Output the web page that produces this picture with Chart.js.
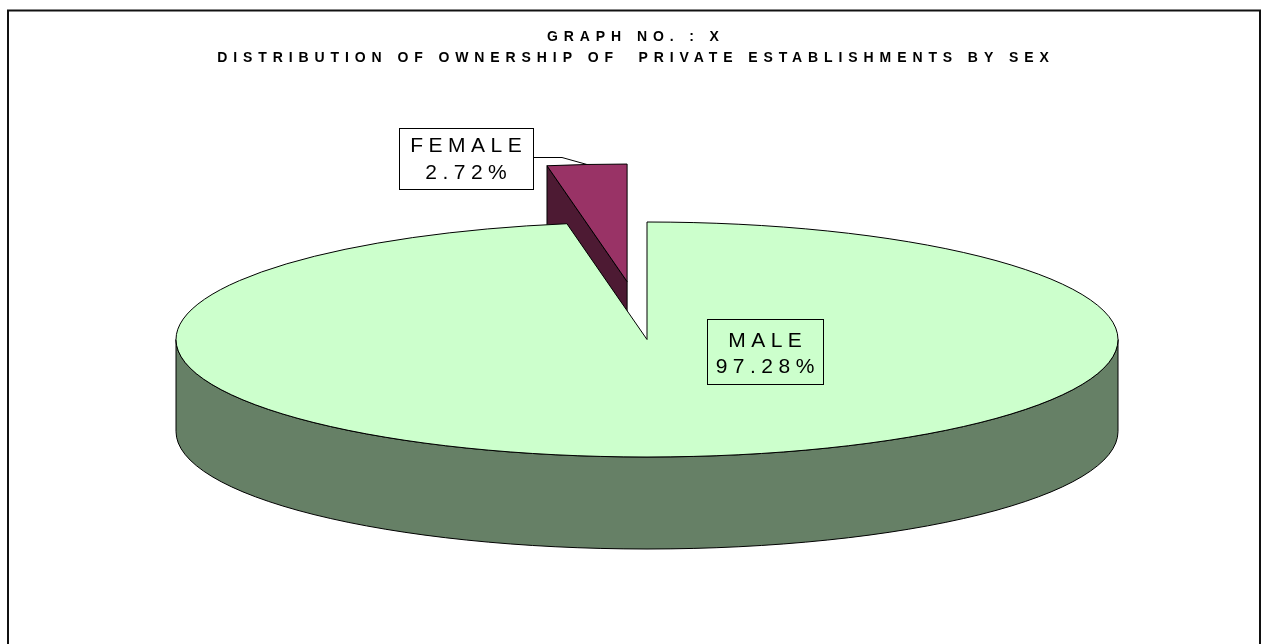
<!DOCTYPE html>
<html><head><meta charset="utf-8">
<script src="https://cdn.jsdelivr.net/npm/chart.js@4.4.0/dist/chart.umd.min.js"></script>
<style>html,body{margin:0;padding:0;background:#fff;}canvas{display:block;}</style>
</head><body>
<canvas id="c" width="1266" height="644"></canvas>
<script>
// ---- data ----
const categories = ['MALE', 'FEMALE'];
const shares = [97.28, 2.72];
const titleLines = ['GRAPH NO. : X', 'DISTRIBUTION OF OWNERSHIP OF  PRIVATE ESTABLISHMENTS BY SEX'];
const topColors = ['#CCFFCC', '#993366'];
const sideColors = ['#668066', '#4D1A33'];
const explode = [0, 99];

// ---- layout / style ----
const PIE_CX = 647, PIE_CY = 339.5, RX = 471, RY = 117.5, DEPTH = 92, BASE_R = 200;
const FONT = "'Liberation Sans', Arial, sans-serif";
const TITLE_SPACING = 5.9, LABEL_SPACING = 5.5;
const LABEL_BOXES = [
  {x: 707, y: 319, w: 116, h: 65, fill: null, base: [347, 373]},
  {x: 399, y: 128, w: 134, h: 61, fill: '#ffffff', base: [152, 179], leader: true}
];

let pieCenter = {x: 0, y: 0};
function sx(){ return RX / BASE_R; }
function sy(){ return RY / BASE_R; }
function S(x, y){ return {x: PIE_CX + (x - pieCenter.x) * sx(), y: PIE_CY + (y - pieCenter.y) * sy()}; }

const pie3d = {
  id: 'pie3d',
  afterUpdate(chart) {
    const a = chart.chartArea;
    pieCenter = {x: (a.left + a.right) / 2, y: (a.top + a.bottom) / 2};
    const meta = chart.getDatasetMeta(0);
    meta.data.forEach((el, i) => {
      const e = explode[i] || 0;
      if (e) {
        const mid = (el.startAngle + el.endAngle) / 2;
        el.x += Math.cos(mid) * e;
        el.y += Math.sin(mid) * e;
      }
    });
  },
  beforeDraw(chart) {
    chart.ctx.letterSpacing = TITLE_SPACING + 'px';
  },
  beforeDatasetsDraw(chart) {
    const ctx = chart.ctx;
    const meta = chart.getDatasetMeta(0);
    ctx.save();
    ctx.lineWidth = 1;
    ctx.strokeStyle = '#000';
    ctx.lineJoin = 'round';
    // radial (cut) faces
    meta.data.forEach((el, i) => {
      const C = S(el.x, el.y);
      const erx = el.outerRadius * sx(), ery = el.outerRadius * sy();
      const faces = [];
      if (Math.cos(el.startAngle) < -1e-6) faces.push(el.startAngle);
      if (Math.cos(el.endAngle) > 1e-6) faces.push(el.endAngle);
      faces.forEach(t => {
        const qx = C.x + erx * Math.cos(t), qy = C.y + ery * Math.sin(t);
        ctx.beginPath();
        ctx.moveTo(C.x, C.y);
        ctx.lineTo(qx, qy);
        ctx.lineTo(qx, qy + DEPTH);
        ctx.lineTo(C.x, C.y + DEPTH);
        ctx.closePath();
        ctx.fillStyle = sideColors[i];
        ctx.fill();
        ctx.stroke();
      });
    });
    // outer curved walls (front half only)
    meta.data.forEach((el, i) => {
      const C = S(el.x, el.y);
      const erx = el.outerRadius * sx(), ery = el.outerRadius * sy();
      const s = el.startAngle, e = el.endAngle, T = Math.PI * 2;
      for (let k = Math.floor(s / T) - 1; k <= Math.ceil(e / T) + 1; k++) {
        const a = Math.max(s, T * k), b = Math.min(e, T * k + Math.PI);
        if (b - a > 1e-6) {
          ctx.beginPath();
          ctx.ellipse(C.x, C.y, erx, ery, 0, a, b, false);
          ctx.ellipse(C.x, C.y + DEPTH, erx, ery, 0, b, a, true);
          ctx.closePath();
          ctx.fillStyle = sideColors[i];
          ctx.fill();
          ctx.stroke();
        }
      }
    });
    ctx.restore();
    // squash the library-drawn slices into the tilted ellipse
    ctx.save();
    ctx.translate(PIE_CX, PIE_CY);
    ctx.scale(sx(), sy());
    ctx.translate(-pieCenter.x, -pieCenter.y);
  },
  afterDatasetsDraw(chart) {
    const ctx = chart.ctx;
    ctx.restore();
    const meta = chart.getDatasetMeta(0);
    ctx.save();
    ctx.lineWidth = 1;
    ctx.strokeStyle = '#000';
    ctx.lineJoin = 'round';
    meta.data.forEach((el) => {
      const C = S(el.x, el.y);
      const erx = el.outerRadius * sx(), ery = el.outerRadius * sy();
      ctx.beginPath();
      ctx.moveTo(C.x, C.y);
      ctx.ellipse(C.x, C.y, erx, ery, 0, el.startAngle, el.endAngle, false);
      ctx.closePath();
      ctx.stroke();
    });
    ctx.restore();
  },
  afterDraw(chart) {
    const ctx = chart.ctx;
    const meta = chart.getDatasetMeta(0);
    const total = shares.reduce((a, b) => a + b, 0);
    ctx.save();
    // frame
    ctx.lineWidth = 2;
    ctx.strokeStyle = '#111';
    ctx.strokeRect(8, 10.5, 1252, 700);
    // labels
    ctx.lineWidth = 1;
    ctx.strokeStyle = '#000';
    LABEL_BOXES.forEach((b, i) => {
      if (b.leader) {
        const el = meta.data[i];
        const mid = (el.startAngle + el.endAngle) / 2;
        const P = S(el.x + el.outerRadius * Math.cos(mid), el.y + el.outerRadius * Math.sin(mid));
        ctx.beginPath();
        ctx.moveTo(b.x + b.w + 0.5, b.y + 29.5);
        ctx.lineTo(b.x + b.w + 29, b.y + 29.5);
        ctx.lineTo(P.x, P.y);
        ctx.stroke();
      }
      if (b.fill) { ctx.fillStyle = b.fill; ctx.fillRect(b.x, b.y, b.w, b.h); }
      ctx.strokeRect(b.x + 0.5, b.y + 0.5, b.w, b.h);
      ctx.fillStyle = '#000';
      ctx.font = '21px ' + FONT;
      ctx.letterSpacing = LABEL_SPACING + 'px';
      ctx.textAlign = 'center';
      ctx.textBaseline = 'alphabetic';
      const cx = b.x + b.w / 2 + LABEL_SPACING / 2;
      ctx.fillText(categories[i], cx, b.base[0]);
      ctx.fillText((shares[i] / total * 100).toFixed(2) + '%', cx, b.base[1]);
    });
    ctx.restore();
    ctx.letterSpacing = '0px';
  }
};

new Chart(document.getElementById('c'), {
  type: 'pie',
  data: {
    labels: categories,
    datasets: [{
      data: shares,
      backgroundColor: topColors,
      borderWidth: 0,
      clip: false
    }]
  },
  options: {
    responsive: false,
    animation: false,
    events: [],
    radius: BASE_R,
    layout: {padding: {left: TITLE_SPACING}},
    plugins: {
      legend: {display: false},
      tooltip: {enabled: false},
      title: {
        display: true,
        text: titleLines,
        color: '#000',
        font: {family: FONT, size: 14, weight: 'bold', lineHeight: '21px'},
        padding: {top: 26.5, bottom: 0}
      }
    }
  },
  plugins: [pie3d]
});
</script>
</body></html>
